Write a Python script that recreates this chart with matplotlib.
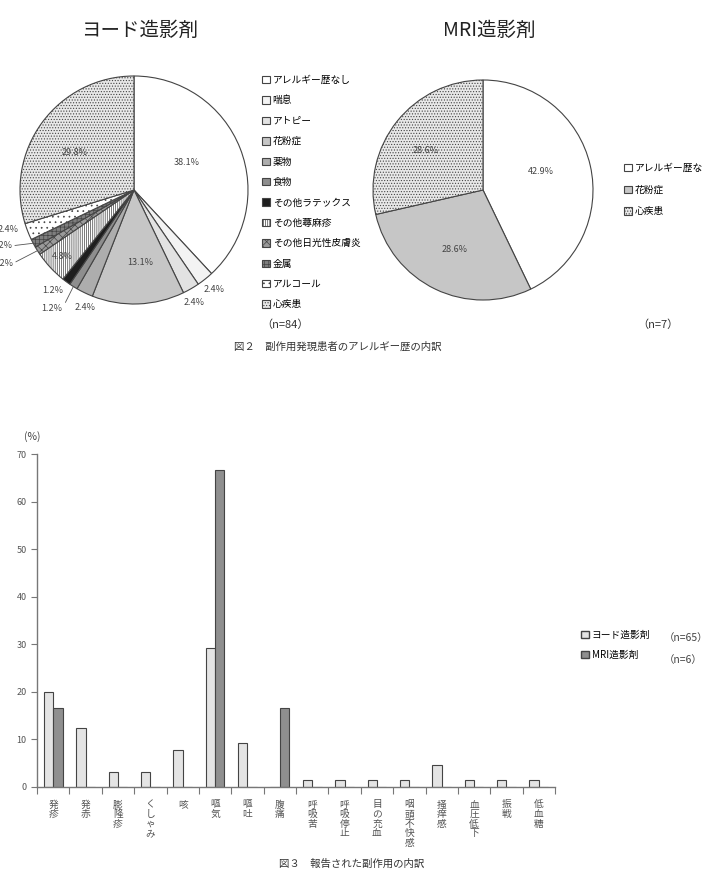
import numpy as np
import matplotlib
matplotlib.use("Agg")
import matplotlib.pyplot as plt
from matplotlib.patches import Patch

plt.rcParams['font.family'] = ['Noto Sans CJK JP', 'DejaVu Sans']
plt.rcParams['hatch.linewidth'] = 0.5

# ---- data: figure 2 (pies) ----
allergy_labels = ['アレルギー歴なし', '喘息', 'アトピー', '花粉症', '薬物', '食物',
                  'その他ラテックス', 'その他蕁麻疹', 'その他日光性皮膚炎', '金属',
                  'アルコール', '心疾患']
iodine_counts = [32, 2, 2, 11, 2, 1, 1, 4, 1, 1, 2, 25]
iodine_pct = ['38.1%', '2.4%', '2.4%', '13.1%', '2.4%', '1.2%', '1.2%', '4.8%',
              '1.2%', '1.2%', '2.4%', '29.8%']

mri_allergy_labels = ['アレルギー歴なし', '花粉症', '心疾患']
mri_counts = [3, 2, 2]
mri_pct = ['42.9%', '28.6%', '28.6%']

# ---- data: figure 3 (bars) ----
effects = ['発疹', '発赤', '膨隆疹', 'くしゃみ', '咳', '嘔気', '嘔吐', '腹痛', '呼吸苦',
           '呼吸停止', '目の充血', '咽頭不快感', '掻痒感', '血圧低下', '振戦', '低血糖']
iodine_rate = [20.0, 12.3, 3.1, 3.1, 7.7, 29.2, 9.2, 0, 1.5, 1.5, 1.5, 1.5, 4.6, 1.5, 1.5, 1.5]
mri_rate = [16.7, 0, 0, 0, 0, 66.7, 0, 16.7, 0, 0, 0, 0, 0, 0, 0, 0]

# ---- styles ----
pie1_colors = ['white', '#f3f3f3', '#e2e2e2', '#c6c6c6', '#adadad', '#8e8e8e', '#1e1e1e',
               'white', '#9a9a9a', '#7e7e7e', 'white', '#e8e8e8']
pie1_hatch = [None, None, None, None, None, None, None, '||||||||', 'xxxx', '++++', '...',
              '......']
# label placement: (radius factor, angle nudge in deg, leader line)
pie1_lab = [(0.52, 6, False), (1.12, 0, False), (1.12, -2, False), (0.64, 3, False),
            (1.12, 3, False), (1.26, -2.6, True), (1.13, -2.6, False), (0.86, 0, False),
            (1.32, -3, True), (1.26, -5, True), (1.16, -4, False), (0.62, 4, False)]
pie2_colors = ['white', '#c6c6c6', '#e8e8e8']
pie2_hatch = [None, None, '......']
edge = '#444444'
txt = '#444444'

W, H = 704, 869
fig = plt.figure(figsize=(W / 100, H / 100), dpi=100)


def px_axes(cx, cy, r):
    return fig.add_axes([(cx - r) / W, (H - cy - r) / H, 2 * r / W, 2 * r / H])


def draw_pie(ax, counts, colors, hatches, pct, lab):
    wedges, _ = ax.pie(counts, startangle=90, counterclock=False, colors=colors,
                       wedgeprops=dict(edgecolor=edge, linewidth=0.8))
    for w, h in zip(wedges, hatches):
        if h:
            w.set_hatch(h)
    for w, p, (rf, nudge, lead) in zip(wedges, pct, lab):
        mid = np.deg2rad((w.theta1 + w.theta2) / 2)
        ang = mid + np.deg2rad(nudge)
        pos = (rf * np.cos(ang), rf * np.sin(ang))
        if lead:
            ax.annotate(p, xy=(np.cos(mid), np.sin(mid)), xytext=pos, ha='center', va='center',
                        fontsize=6.5, color=txt, annotation_clip=False,
                        arrowprops=dict(arrowstyle='-', color='#555', lw=0.6, shrinkA=0,
                                        shrinkB=0, relpos=(1, 0.5)))
        else:
            ax.text(pos[0], pos[1], p, ha='center', va='center', fontsize=6.5, color=txt)
    ax.set_xlim(-1, 1)
    ax.set_ylim(-1, 1)
    ax.axis('off')
    return wedges


ax1 = px_axes(134, 190, 114)
w1 = draw_pie(ax1, iodine_counts, pie1_colors, pie1_hatch, iodine_pct, pie1_lab)
fig.legend(w1, allergy_labels, loc='upper left', bbox_to_anchor=(262 / W, 1 - 75 / H),
           frameon=False, fontsize=7, handlelength=0.8, handleheight=0.8,
           handletextpad=0.3, labelspacing=1.07, borderaxespad=0, borderpad=0)

ax2 = px_axes(483, 190, 110)
w2 = draw_pie(ax2, mri_counts, pie2_colors, pie2_hatch, mri_pct,
              [(0.55, 5, False), (0.6, 0, False), (0.63, 4, False)])
fig.legend(w2, mri_allergy_labels, loc='upper left', bbox_to_anchor=(624 / W, 1 - 163 / H),
           frameon=False, fontsize=7, handlelength=0.8, handleheight=0.8,
           handletextpad=0.3, labelspacing=1.2, borderaxespad=0, borderpad=0)

fig.text(140 / W, 1 - 30 / H, 'ヨード造影剤', ha='center', va='center', fontsize=14, color='#222')
fig.text(489 / W, 1 - 30 / H, 'MRI造影剤', ha='center', va='center', fontsize=14, color='#222')
fig.text(285 / W, 1 - 325 / H, '（n=84）', ha='center', va='center', fontsize=8, color='#333')
fig.text(658 / W, 1 - 325 / H, '（n=7）', ha='center', va='center', fontsize=8, color='#333')
fig.text(234 / W, 1 - 347 / H, '図２　副作用発現患者のアレルギー歴の内訳', ha='left', va='center',
         fontsize=7.5, color='#333')

# ---- bar chart ----
ax3 = fig.add_axes([37 / W, (H - 787) / H, (555 - 37) / W, 333 / H])
x = np.arange(len(effects))
bw = 0.29
ax3.bar(x - bw / 2, iodine_rate, bw, color='#e4e4e4', edgecolor=edge, linewidth=0.8)
ax3.bar(x + bw / 2, mri_rate, bw, color='#8f8f8f', edgecolor=edge, linewidth=0.8)
ax3.set_xlim(-0.5, len(effects) - 0.5)
ax3.set_ylim(0, 70)
ax3.set_yticks(np.arange(0, 71, 10))
ax3.set_xticks(x)
ax3.set_xticklabels(['\n'.join(s) for s in effects], fontsize=7, color='#555',
                    linespacing=0.95, va='top')
ax3.set_xticks(np.arange(-0.5, len(effects)), minor=True)
ax3.tick_params(axis='x', which='major', length=0, pad=9)
ax3.tick_params(axis='x', which='minor', length=5, width=0.8, color='#777')
ax3.tick_params(axis='y', length=4, width=0.8, color='#777', labelsize=6.5, labelcolor='#555')
for s in ['top', 'right']:
    ax3.spines[s].set_visible(False)
for s in ['left', 'bottom']:
    ax3.spines[s].set_color('#777')
    ax3.spines[s].set_linewidth(1.0)

fig.text(32 / W, 1 - 437 / H, '(%)', ha='center', va='center', fontsize=7.5, color='#444')

handles = [Patch(facecolor='#e4e4e4', edgecolor=edge), Patch(facecolor='#8f8f8f', edgecolor=edge)]
fig.legend(handles, ['ヨード造影剤', 'MRI造影剤'], loc='upper left',
           bbox_to_anchor=(581 / W, 1 - 630 / H), frameon=False, fontsize=7,
           handlelength=0.8, handleheight=0.8, handletextpad=0.3, labelspacing=1.0,
           borderaxespad=0, borderpad=0)
fig.text(664 / W, 1 - 638 / H, '（n=65）', ha='left', va='center', fontsize=7.5, color='#444')
fig.text(664 / W, 1 - 660 / H, '（n=6）', ha='left', va='center', fontsize=7.5, color='#444')
fig.text(352 / W, 1 - 864 / H, '図３　報告された副作用の内訳', ha='center', va='center',
         fontsize=7.5, color='#333')

fig.savefig('out.png', dpi=100)
